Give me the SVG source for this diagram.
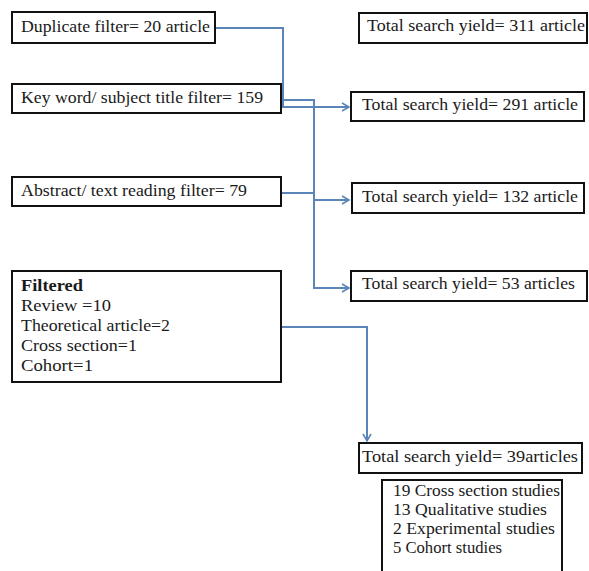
<svg xmlns="http://www.w3.org/2000/svg" width="589" height="571" viewBox="0 0 589 571">
<defs>
<style>
.box{fill:#fff;stroke:#111;stroke-width:2}
.t{font-family:"Liberation Serif","Times New Roman",serif;font-size:17px;fill:#1a1a1a}
.b{font-weight:bold}
.c{fill:none;stroke:#5b84b8;stroke-width:2}
</style>
<marker id="arr" markerWidth="10" markerHeight="10" refX="8" refY="5" orient="auto" markerUnits="userSpaceOnUse">
<path d="M1,1 L8,5 L1,9" fill="none" stroke="#5b84b8" stroke-width="1.6"/>
</marker>
</defs>
<rect width="589" height="571" fill="#fff"/>
<g id="connectors">
<path class="c" d="M214,28 H283 V107 H349" marker-end="url(#arr)"/>
<path class="c" d="M281,100 H314 V288 H349" marker-end="url(#arr)"/>
<path class="c" d="M281,193 H314"/>
<path class="c" d="M314,200 H349" marker-end="url(#arr)"/>
<path class="c" d="M281,327 H367 V441" marker-end="url(#arr)"/>
</g>
<g id="dup">
<rect class="box" x="12" y="12" width="203" height="31"/>
<text class="t" x="21" y="32" textLength="189" lengthAdjust="spacingAndGlyphs">Duplicate filter= 20 article</text>
</g>
<g id="keyword">
<rect class="box" x="12" y="84" width="269" height="29"/>
<text class="t" x="21" y="103" textLength="242" lengthAdjust="spacingAndGlyphs">Key word/ subject title filter= 159</text>
</g>
<g id="abstract">
<rect class="box" x="12" y="177" width="269" height="29"/>
<text class="t" x="21" y="196" textLength="226" lengthAdjust="spacingAndGlyphs">Abstract/ text reading filter= 79</text>
</g>
<g id="filtered">
<rect class="box" x="12" y="271" width="269" height="111"/>
<text class="t b" x="21" y="291" textLength="62" lengthAdjust="spacingAndGlyphs">Filtered</text>
<text class="t" x="21" y="311" textLength="90" lengthAdjust="spacingAndGlyphs">Review =10</text>
<text class="t" x="21" y="331" textLength="149" lengthAdjust="spacingAndGlyphs">Theoretical article=2</text>
<text class="t" x="21" y="351" textLength="116" lengthAdjust="spacingAndGlyphs">Cross section=1</text>
<text class="t" x="21" y="371" textLength="72" lengthAdjust="spacingAndGlyphs">Cohort=1</text>
</g>
<g id="y311">
<rect class="box" x="359" y="13" width="228" height="30"/>
<text class="t" x="367" y="31" textLength="218" lengthAdjust="spacingAndGlyphs">Total search yield= 311 article</text>
</g>
<g id="y291">
<rect class="box" x="351" y="92" width="233" height="29"/>
<text class="t" x="362" y="110" textLength="216" lengthAdjust="spacingAndGlyphs">Total search yield= 291 article</text>
</g>
<g id="y132">
<rect class="box" x="352" y="183" width="232" height="30"/>
<text class="t" x="362" y="202" textLength="216" lengthAdjust="spacingAndGlyphs">Total search yield= 132 article</text>
</g>
<g id="y53">
<rect class="box" x="351" y="271" width="236" height="30"/>
<text class="t" x="362" y="289" textLength="213" lengthAdjust="spacingAndGlyphs">Total search yield= 53 articles</text>
</g>
<g id="y39">
<rect class="box" x="359" y="443" width="223" height="30"/>
<text class="t" x="362" y="462" textLength="216" lengthAdjust="spacingAndGlyphs">Total search yield= 39articles</text>
</g>
<g id="studies">
<rect class="box" x="382" y="480" width="180" height="100"/>
<text class="t" x="393" y="496" textLength="167" lengthAdjust="spacingAndGlyphs">19 Cross section studies</text>
<text class="t" x="393" y="515" textLength="154" lengthAdjust="spacingAndGlyphs">13 Qualitative studies</text>
<text class="t" x="393" y="534" textLength="162" lengthAdjust="spacingAndGlyphs">2 Experimental studies</text>
<text class="t" x="393" y="553" textLength="109" lengthAdjust="spacingAndGlyphs">5 Cohort studies</text>
</g>
</svg>
